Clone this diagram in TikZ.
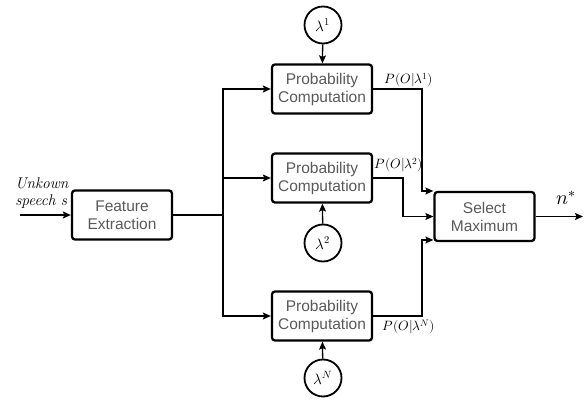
\documentclass[tikz,border=0pt]{standalone}
\usepackage{fontspec}
\usepackage{unicode-math}
\setmathfont{Latin Modern Math}
\newfontfamily\boxfont{Liberation Sans}
\usetikzlibrary{arrows.meta}
\begin{document}
\begin{tikzpicture}[x=1pt, y=-1pt, >={Stealth[length=8pt,width=7pt,inset=1.5pt]},
    block/.style={draw, line width=2.3pt, rounded corners=3pt, minimum width=100pt,
        minimum height=49pt, align=center, text=black!65,
        font=\boxfont\fontsize{15.5}{18}\selectfont},
    model/.style={draw, circle, line width=1.8pt, minimum size=37pt, inner sep=0pt,
        font=\fontsize{15}{17}\selectfont},
    wire/.style={line width=1.3pt},
    lbl/.style={inner sep=0pt, font=\fontsize{13.5}{15}\selectfont}]
    \useasboundingbox (0,0) rectangle (586,403);
    % Feature extraction
    \node[block] (fe) at (122,215) {Feature\\Extraction};
    \node[lbl, align=left, font=\fontsize{15.5}{17}\selectfont] (speech) at (42,193)
        {\textit{Unkown}\\\textit{speech s}};
    \coordinate (src) at (20,215);
    \draw[wire, ->] (src) -- (fe.west);
    % Probability computation, one per model
    \node[block] (p1) at (322,89) {Probability\\Computation};
    \node[block] (p2) at (322,178) {Probability\\Computation};
    \node[block] (p3) at (322,316) {Probability\\Computation};
    % Models
    \node[model] (l1) at (323,25) {$\lambda^1$};
    \node[model] (l2) at (323,243) {$\lambda^2$};
    \node[model] (lN) at (323,378) {$\lambda^N$};
    \draw[wire, ->] (l1) -- (p1);
    \draw[wire, ->] (l2) -- (p2);
    \draw[wire, ->] (lN) -- (p3);
    % Split
    \coordinate (split) at (223,215);
    \draw[wire] (fe.east) -- (split);
    \draw[wire, ->] (split) |- (p1.west);
    \draw[wire, ->] (split) |- (p2.west);
    \draw[wire, ->] (split) |- (p3.west);
    % Select maximum
    \node[block] (sel) at (484.5,216.5) {Select\\Maximum};
    \coordinate (bendA) at (422,191);
    \coordinate (bendB) at (403,216.5);
    \coordinate (bendC) at (422,240);
    \draw[wire, ->] (p1.east) -| (bendA) -- (sel.west |- bendA);
    \draw[wire, ->] (p2.east) -| (bendB) -- (sel.west |- bendB);
    \draw[wire, ->] (p3.east) -| (bendC) -- (sel.west |- bendC);
    \node[lbl] (pr1) at (409,80) {$P(O|\lambda^1)$};
    \node[lbl] (pr2) at (399,165) {$P(O|\lambda^2)$};
    \node[lbl] (prN) at (409,327) {$P(O|\lambda^N)$};
    % Output
    \coordinate (dst) at (583,216.5);
    \draw[wire, ->] (sel.east) -- (dst);
    \node[lbl, font=\fontsize{20}{22}\selectfont] (best) at (566,198) {$n^*$};
\end{tikzpicture}
\end{document}
